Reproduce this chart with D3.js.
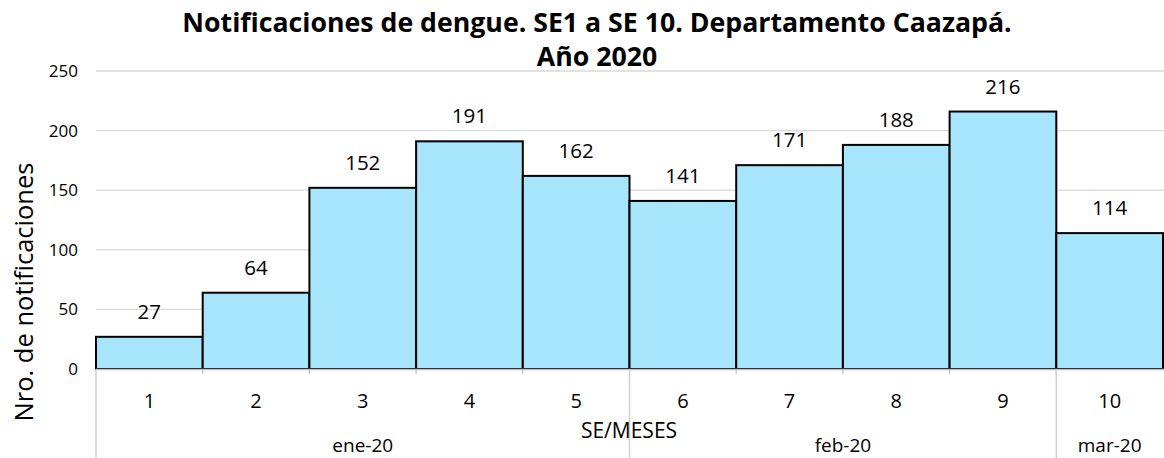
<!DOCTYPE html>
<html><head><meta charset="utf-8">
<script src="https://cdn.jsdelivr.net/npm/d3@7"></script>
<style>
body{margin:0;background:#fff;}
svg{display:block;font-family:"Open Sans","Noto Sans",sans-serif;}
</style></head>
<body>
<svg id="chart" width="1164" height="458"></svg>
<script>
const weeks = ["1","2","3","4","5","6","7","8","9","10"];
const values = [27,64,152,191,162,141,171,188,216,114];
const weekMonth = ["ene-20","ene-20","ene-20","ene-20","ene-20","feb-20","feb-20","feb-20","feb-20","mar-20"];
const months = ["ene-20","feb-20","mar-20"];
const yTicks = [0,50,100,150,200,250];
const titleLines = ["Notificaciones de dengue. SE1 a SE 10. Departamento Caazapá.","Año 2020"];
const yTitle = "Nro. de notificaciones";
const xTitle = "SE/MESES";

const svg = d3.select("#chart");
const pLeft = 96, pRight = 1163, pTop = 71, pBottom = 369;

const x = d3.scaleBand().domain(weeks).range([pLeft, pRight]).padding(0);
const y = d3.scaleLinear().domain([0,250]).range([pBottom, pTop]);

// gridlines
svg.append("g").selectAll("line").data(yTicks.filter(d=>d>0)).join("line")
  .attr("x1", pLeft).attr("x2", 1164)
  .attr("y1", d=>y(d)).attr("y2", d=>y(d))
  .attr("stroke", "#d9d9d9").attr("stroke-width", 1.3);

// y tick labels
svg.append("g").selectAll("text").data(yTicks).join("text")
  .attr("x", 78).attr("y", d=>y(d)).attr("dy", "0.35em")
  .attr("text-anchor", "end").attr("font-size", 17).attr("fill", "#000")
  .text(d=>d);

// bars
svg.append("g").selectAll("rect").data(values).join("rect")
  .attr("x", (d,i)=>x(weeks[i])).attr("width", x.bandwidth())
  .attr("y", d=>y(d)).attr("height", d=>pBottom - y(d))
  .attr("fill", "#a6e5fb").attr("stroke", "#000").attr("stroke-width", 2);

// value labels
svg.append("g").selectAll("text").data(values).join("text")
  .attr("x", (d,i)=>x(weeks[i]) + x.bandwidth()/2)
  .attr("y", d=>y(d) - 18)
  .attr("text-anchor", "middle").attr("font-size", 20.5).attr("fill", "#000")
  .text(d=>d);

// x axis line
svg.append("line").attr("x1", pLeft).attr("x2", 1164).attr("y1", pBottom+0.5).attr("y2", pBottom+0.5)
  .attr("stroke", "#bfbfbf").attr("stroke-width", 1.5);

// small ticks between weeks
svg.append("g").selectAll("line").data(weeks.slice(1)).join("line")
  .attr("x1", d=>x(d)).attr("x2", d=>x(d)).attr("y1", pBottom).attr("y2", pBottom+5)
  .attr("stroke", "#bfbfbf").attr("stroke-width", 1.2);

// month groups
const groups = months.map(m => {
  const idx = weekMonth.map((w,i)=>w===m?i:-1).filter(i=>i>=0);
  const x0 = x(weeks[idx[0]]);
  const x1 = x(weeks[idx[idx.length-1]]) + x.bandwidth();
  return {m, x0, x1};
});
svg.append("g").selectAll("line").data(groups).join("line")
  .attr("x1", d=>d.x0).attr("x2", d=>d.x0).attr("y1", pBottom).attr("y2", 458)
  .attr("stroke", "#d0d0d0").attr("stroke-width", 1.5);

// week labels
svg.append("g").selectAll("text").data(weeks).join("text")
  .attr("x", d=>x(d)+x.bandwidth()/2).attr("y", 408)
  .attr("text-anchor", "middle").attr("font-size", 20).attr("fill", "#000")
  .text(d=>d);

// month labels
svg.append("g").selectAll("text").data(groups).join("text")
  .attr("x", d=>(d.x0 + Math.min(d.x1,1164))/2).attr("y", 452)
  .attr("text-anchor", "middle").attr("font-size", 19).attr("fill", "#000")
  .text(d=>d.m);

// x title
svg.append("text").attr("x", 629).attr("y", 438).attr("text-anchor", "middle")
  .attr("font-size", 21).attr("fill", "#000").text(xTitle);

// y title
svg.append("text").attr("transform", "translate(33,292) rotate(-90)")
  .attr("text-anchor", "middle").attr("font-size", 25.5).attr("fill", "#000").text(yTitle);

// title
const t = svg.append("text").attr("text-anchor", "middle").attr("font-weight", "bold")
  .attr("font-size", 22).attr("fill", "#000");
t.selectAll("tspan").data(titleLines).join("tspan")
  .attr("x", 597).attr("y", (d,i)=> 32 + i*34).text(d=>d);
const w = t.select("tspan").node().getComputedTextLength();
t.attr("font-size", 22 * 830 / w);
</script>
</body></html>
